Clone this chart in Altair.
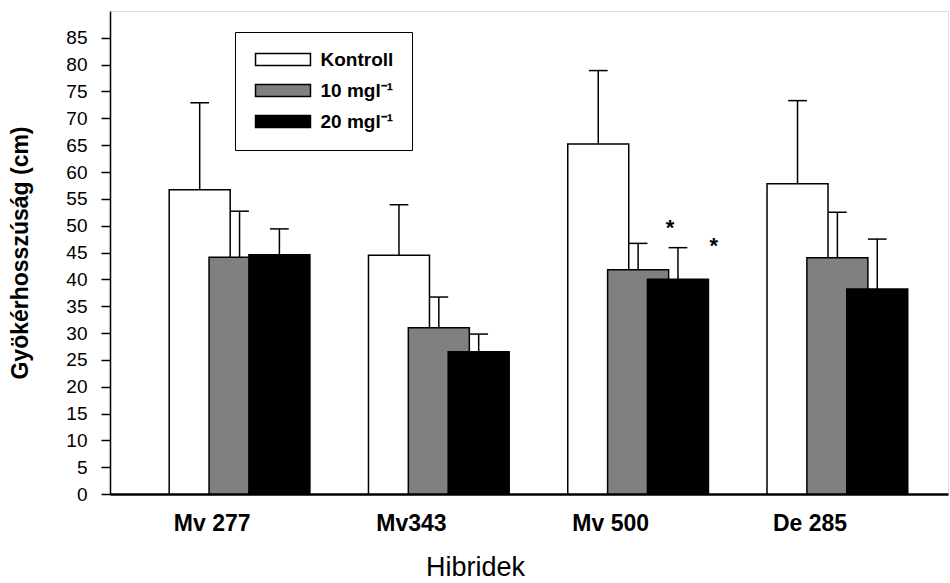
import json
import altair as alt
import pandas as pd

# ---- data ----
groups = ["Mv 277", "Mv343", "Mv 500", "De 285"]
series = ["Kontroll", "10 mgl⁻¹", "20 mgl⁻¹"]
kontroll = [56.7, 44.5, 65.2, 57.8]
kontroll_err = [16.2, 9.4, 13.7, 15.5]
mg10 = [44.1, 31.0, 41.8, 44.0]
mg10_err = [8.6, 5.7, 4.9, 8.5]
mg20 = [44.6, 26.5, 40.0, 38.2]
mg20_err = [4.8, 3.3, 5.9, 9.3]
star_x = [2.16, 2.38]
star_y = [50.2, 46.7]
y_ticks = list(range(0, 90, 5))

OFFSET = 0.2      # bar offset within a group (in group units)
CAP = 0.047       # half cap width (in group units)
LABEL_SHIFT = 0.14

rows = []
for j, (vals, errs) in enumerate([(kontroll, kontroll_err), (mg10, mg10_err), (mg20, mg20_err)]):
    for i, g in enumerate(groups):
        rows.append({"group": g, "series": series[j], "order": j,
                     "x": i + (j - 1) * OFFSET, "mean": vals[i], "top": vals[i] + errs[i]})
df = pd.DataFrame(rows)
stars = pd.DataFrame({"x": star_x, "y": star_y, "t": ["*", "*"]})

FONT = "Liberation Sans"
label_vals = [i - LABEL_SHIFT for i in range(len(groups))]
label_expr = f"{json.dumps(groups)}[round(datum.value + {LABEL_SHIFT})]"

xscale = alt.Scale(domain=[-0.625, 3.53], nice=False, zero=False)
yscale = alt.Scale(domain=[0, 90], nice=False)

xaxis = alt.Axis(values=label_vals, labelExpr=label_expr, ticks=False, grid=False,
                 domainColor="black", domainWidth=2.5, labelFont=FONT, labelFontSize=23,
                 labelFontWeight="bold", labelColor="black", labelPadding=18,
                 title="Hibridek", titleFont=FONT, titleFontSize=27, titleFontWeight="normal",
                 titleColor="black", titleX=365, titleY=73, titleAlign="center",
                 titleBaseline="middle", labelFlush=False, labelOverlap=False)
yaxis = alt.Axis(values=y_ticks, grid=False, domainColor="black", domainWidth=1.5,
                 tickColor="black", tickSize=9, tickWidth=1.5, labelFont=FONT, labelFontSize=19,
                 labelColor="black", labelPadding=14, labelOverlap=False,
                 title="Gyökérhosszúság (cm)", titleFont=FONT, titleFontSize=23,
                 titleFontWeight="bold", titleColor="black", titleX=-90, titleY=241.5,
                 titleAlign="center", titleBaseline="middle", titleAngle=270)

legend = alt.Legend(title=None, orient="none", legendX=125, legendY=21, direction="vertical",
                    strokeColor="black", fillColor="white", padding=18,
                    symbolType="M-4.58,-1H4.58V1H-4.58Z", symbolSize=144,
                    symbolStrokeColor="black", symbolStrokeWidth=1.5,
                    symbolOffset=20.5, labelOffset=28, rowPadding=11,
                    labelFont=FONT, labelFontWeight="bold", labelFontSize=19,
                    labelColor="black")

base = alt.Chart(df)

def Y(field):
    return alt.Y(field, scale=yscale, axis=yaxis, stack=None)

def X(field):
    return alt.X(field, scale=xscale, axis=xaxis)

bars = base.mark_bar(orient="vertical", size=61, stroke="black", strokeWidth=1.5).encode(
    x=X("x:Q"),
    y=Y("mean:Q"),
    fill=alt.Fill("series:N", scale=alt.Scale(domain=series, range=["white", "#808080", "black"]),
                  legend=legend),
)

err = base.mark_rule(color="black", strokeWidth=1.5).encode(
    x=X("x:Q"), y=Y("mean:Q"), y2="top:Q")

caps = base.transform_calculate(
    xl=f"datum.x - {CAP}", xr=f"datum.x + {CAP}"
).mark_rule(color="black", strokeWidth=1.5).encode(
    x=X("xl:Q"), x2="xr:Q", y=Y("top:Q"))

star = alt.Chart(stars).mark_text(font=FONT, fontSize=22, fontWeight="bold", color="black",
                                  baseline="middle", dy=3).encode(
    x=X("x:Q"), y=Y("y:Q"), text="t:N")

chart = alt.layer(bars, err, caps, star).properties(
    width=838, height=483,
    autosize=alt.AutoSizeParams(type="none"),
    padding={"left": 110, "top": 11, "right": 2, "bottom": 89},
).configure_view(stroke="black", strokeWidth=1).configure(background="white")

chart.save("out.html", embed_options={"renderer": "svg", "actions": False})
